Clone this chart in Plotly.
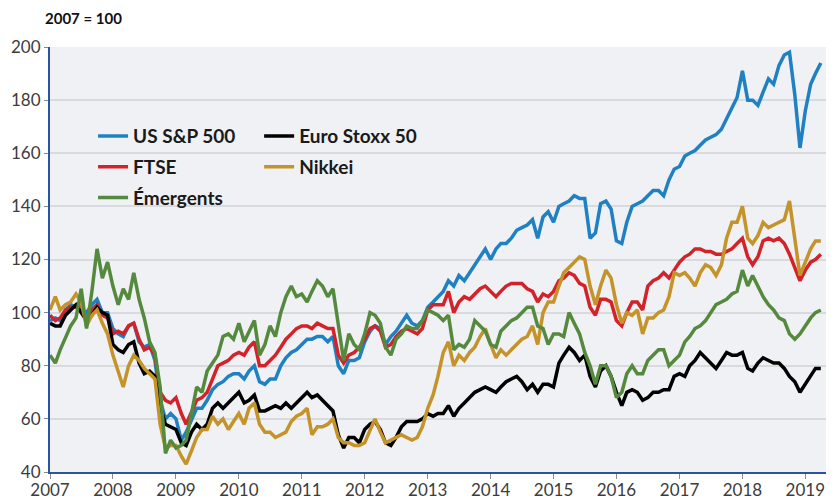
import pandas as pd
import plotly.graph_objects as go

# monthly points, Jan 2007 -> Apr 2019 (index 2007 = 100)
months = pd.date_range("2007-01-01", "2019-04-01", freq="MS")

sp500 = [
    97, 98, 97, 101, 103, 102, 101, 100, 103, 105, 100, 100,  # 2007
    94, 92, 91, 95, 96, 89, 87, 88, 82, 67, 60, 62,  # 2008
    60, 52, 55, 60, 64, 64, 67, 71, 73, 74, 76, 77,  # 2009
    77, 75, 78, 80, 74, 73, 75, 75, 80, 83, 85, 86,  # 2010
    88, 90, 90, 91, 91, 89, 91, 80, 77, 82, 82, 83,  # 2011
    89, 93, 95, 94, 88, 91, 93, 96, 99, 96, 95, 97,  # 2012
    102, 104, 106, 108, 112, 110, 114, 112, 115, 118, 121, 124,  # 2013
    120, 124, 126, 126, 128, 131, 132, 133, 135, 128, 136, 138,  # 2014
    134, 140, 141, 142, 144, 143, 143, 128, 130, 141, 142, 139,  # 2015
    127, 126, 134, 140, 141, 142, 144, 146, 146, 144, 150, 154,  # 2016
    155, 159, 160, 161, 163, 165, 166, 167, 169, 173, 177, 181,  # 2017
    191, 180, 180, 178, 183, 188, 186, 193, 197, 198, 182, 162,  # 2018
    176, 186, 190, 194,  # 2019
]
ftse = [
    99, 97, 98, 101, 102, 102, 103, 97, 101, 103, 99, 98,
    92, 93, 92, 95, 96, 90, 86, 87, 84, 70, 67, 66,
    68, 62, 58, 63, 67, 68, 70, 75, 80, 81, 82, 84,
    85, 84, 87, 89, 80, 80, 82, 84, 87, 90, 92, 94,
    95, 95, 94, 96, 95, 94, 94, 84, 81, 84, 85, 87,
    90, 94, 95, 93, 87, 88, 91, 93, 94, 93, 92, 94,
    101, 103, 103, 103, 108, 100, 104, 106, 105, 107, 109, 110,
    108, 106, 108, 110, 111, 111, 111, 109, 108, 104, 107, 106,
    108, 112, 113, 115, 114, 111, 110, 102, 99, 105, 105, 104,
    97, 95, 100, 104, 104, 101, 110, 112, 113, 115, 113, 116,
    119, 121, 122, 124, 124, 123, 123, 122, 122, 123, 124, 126,
    128, 121, 118, 121, 127, 128, 127, 128, 126, 122, 117, 112,
    116, 119, 120, 122,
]
stoxx50 = [
    96, 95, 95, 99, 101, 103, 100, 97, 99, 102, 100, 99,
    88, 86, 85, 88, 89, 81, 77, 78, 76, 65, 58, 57,
    56, 51, 50, 55, 58, 56, 58, 64, 66, 64, 66, 68,
    70, 66, 67, 69, 63, 63, 64, 65, 64, 66, 64, 66,
    68, 70, 68, 69, 67, 65, 63, 54, 49, 53, 53, 51,
    56, 58, 59, 56, 51, 50, 53, 57, 59, 59, 59, 60,
    62, 61, 62, 62, 65, 61, 64, 66, 68, 70, 71, 72,
    71, 70, 72, 74, 75, 76, 74, 71, 73, 70, 73, 73,
    72, 81, 84, 87, 85, 82, 84, 76, 72, 78, 80, 76,
    70, 65, 70, 71, 70, 67, 68, 70, 70, 71, 71, 76,
    77, 76, 80, 82, 85, 83, 81, 79, 82, 85, 84, 84,
    85, 79, 78, 81, 83, 82, 81, 81, 79, 76, 74, 70,
    73, 76, 79, 79,
]
nikkei = [
    101, 106, 101, 103, 104, 107, 104, 95, 99, 101, 96, 92,
    84, 78, 72, 80, 84, 82, 79, 77, 75, 58, 49, 50,
    50, 46, 43, 48, 53, 56, 56, 61, 58, 60, 56, 59,
    62, 58, 64, 66, 58, 55, 55, 53, 54, 55, 59, 61,
    62, 64, 54, 57, 57, 58, 60, 53, 51, 51, 50, 50,
    51, 56, 60, 55, 51, 52, 53, 54, 53, 52, 53, 57,
    64, 69, 76, 85, 89, 80, 84, 82, 85, 87, 91, 94,
    88, 83, 86, 84, 86, 88, 90, 91, 95, 88, 100, 104,
    104, 110, 115, 117, 119, 121, 120, 110, 103, 110, 116, 113,
    103, 96, 100, 99, 101, 92, 98, 98, 100, 101, 106, 115,
    114, 115, 113, 110, 115, 118, 117, 114, 118, 128, 134, 134,
    140, 128, 126, 129, 134, 132, 133, 134, 135, 142, 128, 114,
    119, 124, 127, 127,
]
emergents = [
    84, 81, 86, 91, 95, 98, 109, 94, 108, 124, 113, 119,
    110, 103, 109, 105, 115, 105, 98, 89, 85, 72, 47, 52,
    49, 50, 52, 62, 72, 70, 78, 81, 84, 91, 92, 90,
    96, 89, 93, 97, 84, 88, 95, 91, 100, 106, 110, 106,
    107, 104, 108, 112, 110, 106, 109, 96, 82, 92, 88, 86,
    92, 100, 99, 96, 87, 84, 90, 92, 95, 94, 94, 97,
    101, 100, 99, 97, 99, 86, 88, 87, 90, 97, 95, 93,
    88, 87, 93, 95, 97, 98, 100, 102, 102, 95, 94, 88,
    92, 92, 91, 100, 96, 92, 85, 80, 73, 80, 80, 76,
    68, 70, 77, 80, 77, 77, 82, 84, 86, 86, 80, 82,
    84, 89, 91, 94, 95, 97, 100, 103, 104, 105, 107, 108,
    116, 110, 114, 110, 106, 103, 101, 98, 97, 92, 90, 92,
    95, 98, 100, 101,
]

series = [
    ("US S&P 500", sp500, "#1f80c2", "legend"),
    ("FTSE", ftse, "#d2232a", "legend"),
    ("Euro Stoxx 50", stoxx50, "#000000", "legend2"),
    ("Nikkei", nikkei, "#c4932a", "legend2"),
    ("Émergents", emergents, "#558a3e", "legend"),
]

fig = go.Figure()
for name, vals, col, leg in series:
    fig.add_trace(go.Scatter(x=months, y=vals, name=name, mode="lines",
                             legendgroup=name, legend=leg,
                             line=dict(color=col, width=3.5)))

# the page body adds an 8px offset, margins compensate for it
leg_font = dict(family="Lato", size=19, color="#1a1a1a", weight="bold")
fig.update_layout(
    width=836, height=500,
    margin=dict(l=42, r=18, t=39, b=36, autoexpand=False),
    paper_bgcolor="white",
    plot_bgcolor="#f0f1f4",
    font=dict(family="Lato", size=17, color="#3c3c3c"),
    title=dict(text="<b>2007 = 100</b>", x=37 / 836, xanchor="left",
               y=1 - 11 / 500, yanchor="middle", pad=dict(l=0),
               font=dict(family="Lato", size=15, color="#111111")),
    legend=dict(x=0.0555, y=0.835, xanchor="left", yanchor="top",
                bgcolor="rgba(0,0,0,0)", font=leg_font, itemwidth=30,
                tracegroupgap=3),
    legend2=dict(x=0.2695, y=0.835, xanchor="left", yanchor="top",
                 bgcolor="rgba(0,0,0,0)", font=leg_font, itemwidth=30,
                 tracegroupgap=3),
    showlegend=True,
)
fig.update_xaxes(
    range=["2007-01-01", "2019-05-01"], dtick="M12", tickformat="%Y",
    tick0="2007-01-01", showgrid=False, showline=True, linecolor="#2c52a3",
    linewidth=2, ticks="outside", ticklen=5, tickcolor="#8a8a8a",
    ticklabelstandoff=-3, automargin=False,
)
fig.update_yaxes(
    range=[40, 200], dtick=20, showgrid=True, gridcolor="#d9dade",
    gridwidth=1.5, showline=True, linecolor="#2c52a3", linewidth=2,
    ticks="outside", ticklen=4, tickcolor="#8a8a8a", zeroline=False,
    automargin=False,
)

fig.write_html("out.html")
